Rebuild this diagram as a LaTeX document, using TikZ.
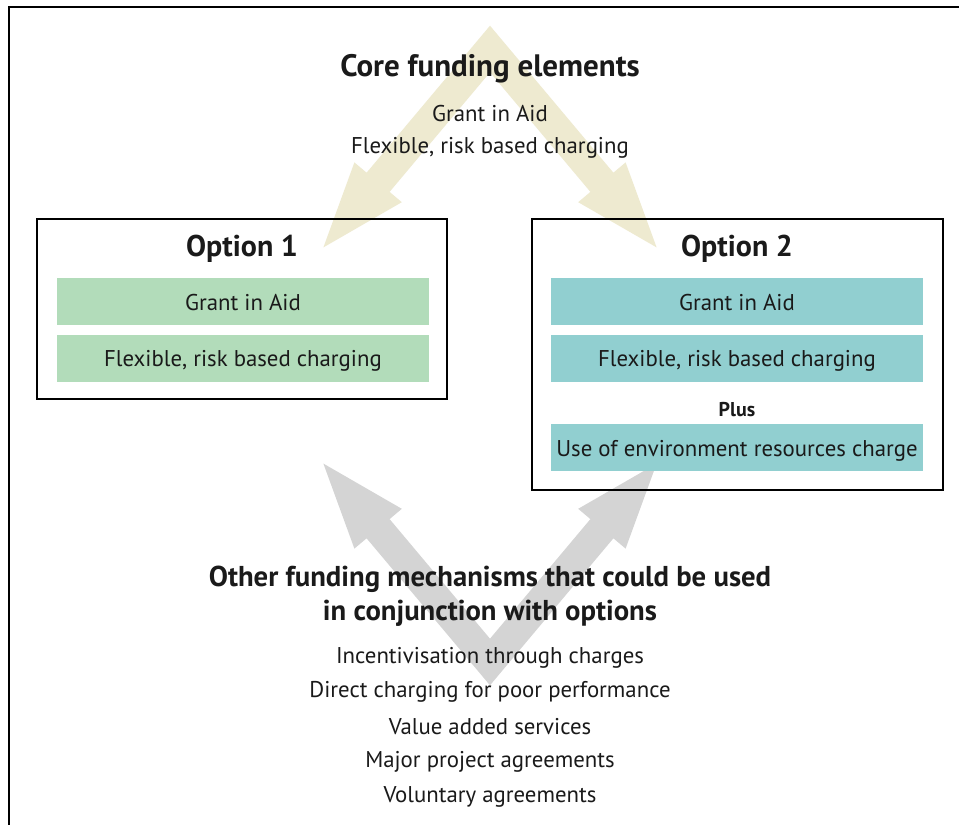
\documentclass[tikz,border=0pt]{standalone}
\usepackage{fontspec}
\setmainfont{PT Sans}
\definecolor{coreyellow}{HTML}{EEEAD0}
\definecolor{othergray}{HTML}{D4D4D4}
\definecolor{optgreen}{HTML}{B2DCBA}
\definecolor{optteal}{HTML}{91CFD0}
\definecolor{ink}{HTML}{1A1A1A}
\begin{document}
\begin{tikzpicture}[x=1pt,y=-1pt,
  optframe/.style={draw=black, line width=2pt},
  bar/.style={minimum width=372pt, minimum height=47pt, inner sep=0pt, text=ink, text height=19pt, text depth=2pt, font=\fontsize{22.8}{27}\selectfont},
  greenbar/.style={bar, fill=optgreen},
  tealbar/.style={bar, fill=optteal},
  heading/.style={text=ink, inner sep=0pt, font=\fontsize{31}{36}\selectfont\bfseries},
  opthead/.style={text=ink, inner sep=0pt, font=\fontsize{30}{36}\selectfont\bfseries},
  item/.style={text=ink, inner sep=0pt, font=\fontsize{22.8}{27}\selectfont}]
\useasboundingbox (0,0) rectangle (959,825);
\clip (0,0) rectangle (959,825);
\fill[white] (0,0) rectangle (959,825);
\draw[line width=2pt] (9,7) rectangle (980,850);

% core funding chevron (pointing down to the options)
\fill[coreyellow] (490,25.7) -- (366.6,172.7) -- (354.4,162.4) -- (323.4,247.4) -- (401.8,202.2) -- (389.6,191.9)
  -- (490,72.3) -- (590.4,191.9) -- (578.2,202.2) -- (656.6,247.4) -- (625.6,162.4) -- (613.4,172.7) -- cycle;
% other mechanisms chevron (pointing up to the options)
\fill[othergray] (490,685.3) -- (366.6,538.3) -- (354.4,548.6) -- (323.4,463.6) -- (401.8,508.8) -- (389.6,519.1)
  -- (490,638.7) -- (590.4,519.1) -- (578.2,508.8) -- (656.6,463.6) -- (625.6,548.6) -- (613.4,538.3) -- cycle;

% option boxes
\draw[optframe] (37,219) rectangle (447,399);
\draw[optframe] (532,219) rectangle (943,490);

% core heading
\node[heading] (core) at (490,69) {Core funding elements};
\node[item] (coreA) at (490,114) {Grant in Aid};
\node[item] (coreB) at (490,148) {Flexible, risk based charging};

% option 1
\node[opthead] (opt1) at (242,249) {Option 1};
\node[greenbar] (o1a) at (243,301.5) {Grant in Aid};
\node[greenbar] (o1b) at (243,358) {Flexible, risk based charging};

% option 2
\node[opthead] (opt2) at (737,249) {Option 2};
\node[tealbar] (o2a) at (737,301.5) {Grant in Aid};
\node[tealbar] (o2b) at (737,358) {Flexible, risk based charging};
\node[text=ink, inner sep=0pt, font=\fontsize{20}{24}\selectfont\bfseries] (plus) at (737,410) {Plus};
\node[tealbar] (o2c) at (737,447.5) {Use of environment resources charge};

% other mechanisms
\node[heading, align=center, font=\fontsize{28.7}{34}\selectfont\bfseries] (other) at (490,596)
  {Other funding mechanisms that could be used\\in conjunction with options};
\node[item] (m1) at (490,658) {Incentivisation through charges};
\node[item] (m2) at (490,692) {Direct charging for poor performance};
\node[item] (m3) at (490,727) {Value added services};
\node[item] (m4) at (490,762) {Major project agreements};
\node[item] (m5) at (490,797) {Voluntary agreements};
\end{tikzpicture}
\end{document}
